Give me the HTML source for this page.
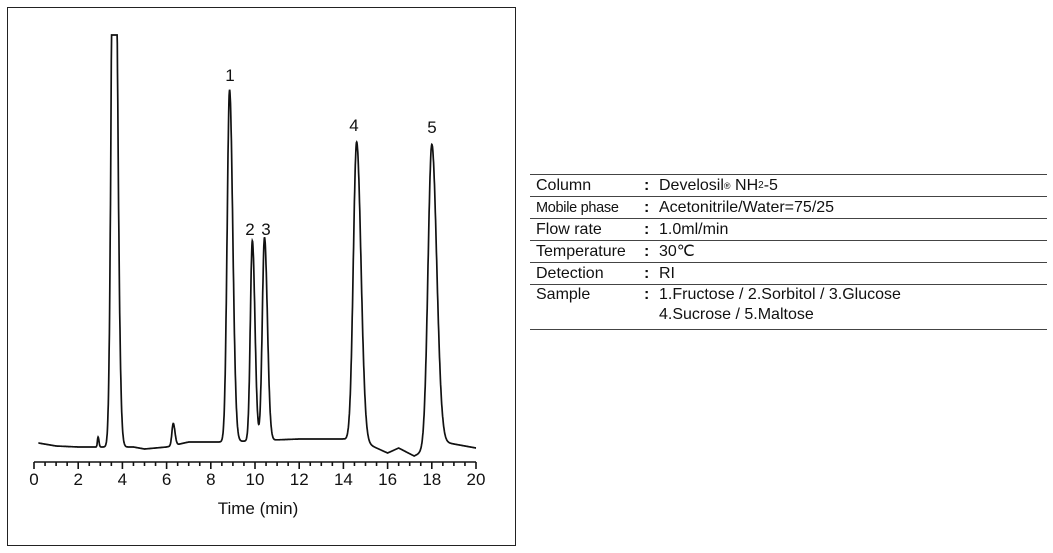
<!DOCTYPE html><html><head><style>
body{margin:0;background:#fff;width:1053px;height:553px;overflow:hidden;font-family:"Liberation Sans",sans-serif}
.t{position:absolute;left:530px;top:174px;width:517px;font-size:16px;color:#111}
.r{height:21px;border-top:1.3px solid #444;display:flex;align-items:center;line-height:20px}
.r span.a{width:108px;padding-left:6px;white-space:nowrap}
.r span.c{width:15px;font-weight:bold}
</style></head><body>
<svg width="1053" height="553" style="position:absolute;left:0;top:0" font-family="Liberation Sans, sans-serif">
<rect x="7.5" y="7.5" width="508" height="538" fill="none" stroke="#222" stroke-width="1"/>
<g id="ax" stroke="#111" stroke-width="1.6"></g>
<path id="p" fill="none" stroke="#111" stroke-width="1.7"/>
<g font-size="17" fill="#111" text-anchor="middle">
<text x="230" y="81">1</text><text x="250" y="235">2</text><text x="266" y="235">3</text>
<text x="354" y="131">4</text><text x="432" y="133">5</text>
<text x="258" y="514">Time (min)</text>
<g id="lab"></g></g>
</svg>
<div class="t">
<div class="r"><span class="a">Column</span><span class="c">:</span>Develosil<sup style="font-size:9px">®</sup>&nbsp;NH<span style="font-size:10px">2</span>-5</div>
<div class="r"><span class="a" style="font-size:14.5px;letter-spacing:-0.3px">Mobile phase</span><span class="c">:</span>Acetonitrile/Water=75/25</div>
<div class="r"><span class="a">Flow rate</span><span class="c">:</span>1.0ml/min</div>
<div class="r"><span class="a">Temperature</span><span class="c">:</span>30℃</div>
<div class="r"><span class="a">Detection</span><span class="c">:</span>RI</div>
<div class="r" style="height:44px;align-items:flex-start;border-bottom:1.3px solid #444"><span class="a">Sample</span><span class="c">:</span><div>1.Fructose / 2.Sorbitol / 3.Glucose<br>4.Sucrose / 5.Maltose</div></div>
</div>
<script>
const X=t=>34+t*22.1;
const bl=[[0.2,443],[1,446],[2,447],[3,447],[4.5,447],[5,449],[6,447],[7,442],[8.5,442],[12,439],[14,439],[15.2,445],[16,453],[16.5,448],[17.2,456],[18.5,442],[20,448]];
function base(t){for(let i=0;i<bl.length-1;i++){if(t<=bl[i+1][0]){const f=(t-bl[i][0])/(bl[i+1][0]-bl[i][0]);return bl[i][1]+f*(bl[i+1][1]-bl[i][1]);}}return 448;}
const pk=[[3.62,700,0.11],[2.9,10,0.03],[6.3,22,0.06],[8.85,352,0.11],[9.88,200,0.09],[10.43,203,0.1],[14.6,300,0.15],[18.0,303,0.17]];
let d="";
for(let t=0.2;t<=20.001;t+=0.01){let y=base(t);for(const[c,h,s]of pk){let ss=t>c?s*1.3:s;y-=h*Math.exp(-((t-c)**2)/(2*ss*ss));}
if(y<35)y=35;d+=(d?"L":"M")+X(t).toFixed(1)+" "+y.toFixed(1);}
document.getElementById('p').setAttribute('d',d);
let a='<line x1="34" y1="462" x2="476" y2="462"/>';
for(let i=0;i<=40;i++){let x=X(i*0.5);a+=`<line x1="${x}" y1="462" x2="${x}" y2="${i%4==0?469:466}"/>`;}
document.getElementById('ax').innerHTML=a;
let l="";for(let i=0;i<=20;i+=2)l+=`<text x="${X(i)}" y="485">${i}</text>`;
document.getElementById('lab').innerHTML=l;
</script>
</body></html>
